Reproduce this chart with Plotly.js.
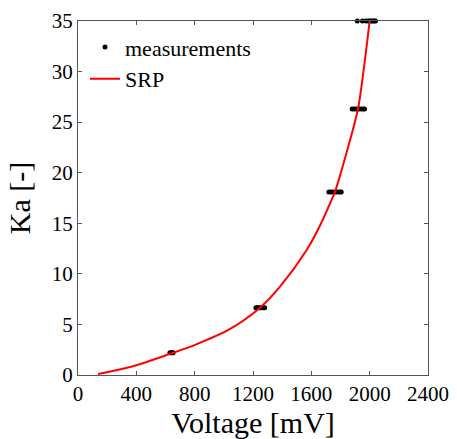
<!DOCTYPE html>
<html><head><meta charset="utf-8">
<script src="https://cdn.plot.ly/plotly-3.0.1.min.js"></script>
<style>html,body{margin:0;padding:0;background:#fff}#chart{width:457px;height:439px}</style>
</head><body><div id="chart"></div>
<script>
// Measurement clusters (Voltage [mV], Ka [-])
const measVoltage = [630,638,645,652,
  1220,1230,1240,1250,1260,1270,1280,
  1720,1735,1750,1765,1780,1795,1805,
  1880,1895,1910,1925,1940,1955,1965,
  1915,1950,1975,1990,2000,2010,2020,2030,2040];
const measKa = [2.2,2.2,2.2,2.2,
  6.65,6.65,6.65,6.65,6.65,6.65,6.65,
  18.1,18.1,18.1,18.1,18.1,18.1,18.1,
  26.3,26.3,26.3,26.3,26.3,26.3,26.3,
  35,35,35,35,35,35,35,35,35];
// SRP curve
const srpVoltage = [137,389,640,811,1031,1248,1385,1568,1659,1728,1762,1840,1920,1960,2000];
const srpKa = [0.1,0.92,2.14,3.03,4.45,6.65,8.73,12.36,14.75,16.95,18.1,21.9,26.3,30.3,35.0];
const xTicks = [0,400,800,1200,1600,2000,2400];
const yTicks = [0,5,10,15,20,25,30,35];

const font = 'Liberation Serif';
const traces = [
  {x: measVoltage, y: measKa, mode: 'markers', type: 'scatter', name: 'measurements',
   marker: {color: '#000', size: 5}, cliponaxis: false},
  {x: srpVoltage, y: srpKa, mode: 'lines', type: 'scatter', name: 'SRP',
   line: {color: '#ff0000', width: 2, shape: 'spline', smoothing: 0.8}}
];
const layout = {
  width: 457, height: 439,
  margin: {l: 78, r: 29, t: 21, b: 64},
  paper_bgcolor: '#fff', plot_bgcolor: '#fff',
  font: {family: font, color: '#000', size: 21},
  showlegend: true,
  legend: {x: 0.02, y: 0.985, xanchor: 'left', yanchor: 'top', bgcolor: 'rgba(0,0,0,0)',
    font: {family: font, size: 22, color: '#000'}, tracegroupgap: 0},
  xaxis: {range: [0, 2400], tickvals: xTicks, ticktext: xTicks.map(String),
    showgrid: false, zeroline: false, showline: true, linecolor: '#555', linewidth: 1,
    mirror: 'ticks', ticks: 'inside', ticklen: 4, tickcolor: '#555',
    tickfont: {family: font, size: 21, color: '#000'},
    title: {text: 'Voltage [mV]', font: {family: font, size: 30, color: '#000'}, standoff: 2}},
  yaxis: {range: [0, 35], tickvals: yTicks, ticktext: yTicks.map(String),
    showgrid: false, zeroline: false, showline: true, linecolor: '#555', linewidth: 1,
    mirror: 'ticks', ticks: 'inside', ticklen: 4, tickcolor: '#555',
    tickfont: {family: font, size: 21, color: '#000'},
    title: {text: 'Ka [-]', font: {family: font, size: 30, color: '#000'}, standoff: 12}}
};
Plotly.newPlot('chart', traces, layout, {displayModeBar: false, staticPlot: true});
</script></body></html>
